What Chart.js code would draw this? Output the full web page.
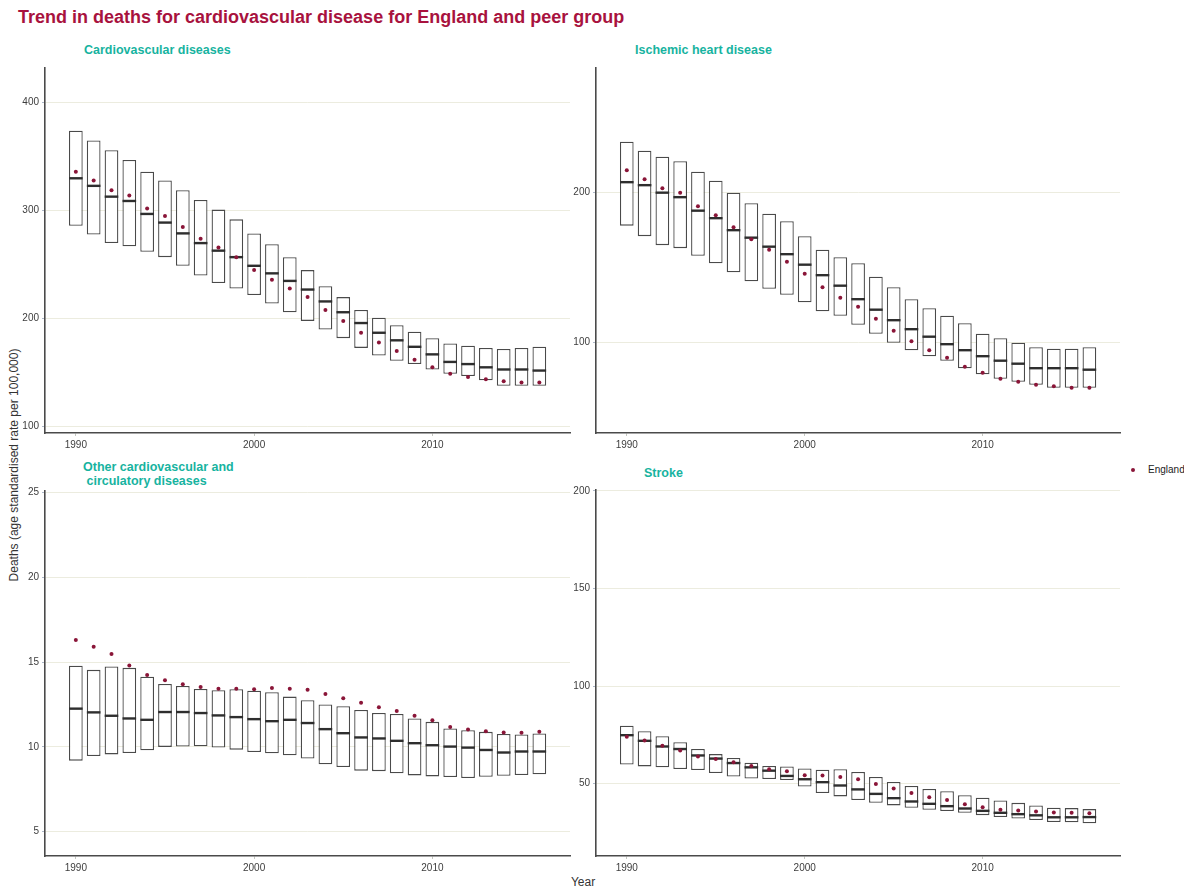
<!DOCTYPE html>
<html>
<head>
<meta charset="utf-8">
<title>Trend in deaths for cardiovascular disease</title>
<script src="https://cdn.jsdelivr.net/npm/chart.js@4.4.1/dist/chart.umd.min.js"></script>
<style>
    body { margin: 0; background: #ffffff; font-family: "Liberation Sans", Arial, sans-serif; }
    #page { position: relative; width: 1184px; height: 889px; overflow: hidden; }
    canvas { position: absolute; }
    .txt { position: absolute; white-space: pre; line-height: 1; }
    .main-title { left: 18px; top: 8px; font-size: 18px; font-weight: bold; color: #a8123e; }
    .panel-title { font-size: 12.5px; font-weight: bold; color: #17b3a0; }
    .axis-title { font-size: 12px; color: #333333; }
    .legend-dot { position: absolute; width: 4px; height: 4px; border-radius: 50%; background: #8a1538; }
    .legend-text { font-size: 10px; color: #222222; }
</style>
</head>
<body>
<div id="page">
    <div class="txt main-title">Trend in deaths for cardiovascular disease for England and peer group</div>

    <div class="txt panel-title" style="left:84px; top:44px;">Cardiovascular diseases</div>
    <div class="txt panel-title" style="left:635px; top:44px;">Ischemic heart disease</div>
    <div class="txt panel-title" style="left:83px; top:460px; line-height:14px;">Other cardiovascular and
 circulatory diseases</div>
    <div class="txt panel-title" style="left:644px; top:467px;">Stroke</div>

    <div class="txt axis-title" style="left:14px; top:465px; transform: translate(-50%, -50%) rotate(-90deg);">Deaths (age standardised rate per 100,000)</div>
    <div class="txt axis-title" style="left:583px; top:882px; transform: translate(-50%, -50%);">Year</div>

    <div class="legend-dot" style="left:1131px; top:468px;"></div>
    <div class="txt legend-text" style="left:1148px; top:465px;">England</div>

    <canvas id="chart-cvd"></canvas>
    <canvas id="chart-ihd"></canvas>
    <canvas id="chart-other"></canvas>
    <canvas id="chart-stroke"></canvas>
</div>

<script>
// Years shared by all four panels
const years = [1990, 1991, 1992, 1993, 1994, 1995, 1996, 1997, 1998, 1999, 2000, 2001, 2002, 2003,
               2004, 2005, 2006, 2007, 2008, 2009, 2010, 2011, 2012, 2013, 2014, 2015, 2016];
const yearTicks = [1990, 2000, 2010];

// Cardiovascular diseases: peer group range, peer median, England
const cvdLow = [286, 278, 270, 267, 262, 257, 249, 240, 233, 228, 222, 214, 206, 198,
                190, 182, 173, 166, 161, 158, 153, 149, 147, 143, 138, 138, 138];
const cvdHigh = [374, 365, 356, 347, 336, 328, 319, 310, 301, 292, 279, 269, 257, 245,
                 230, 220, 208, 201, 194, 188, 182, 177, 175, 173, 172, 173, 174];
const cvdMedian = [330, 323, 313, 309, 297, 289, 279, 270, 263, 257, 249, 242, 235, 227,
                   216, 206, 196, 187, 180, 174, 167, 160, 158, 155, 153, 153, 152];
const cvdEngland = [336, 328, 319, 314, 302, 295, 285, 274, 266, 257, 245, 236, 228, 220,
                    208, 198, 187, 178, 170, 162, 155, 149, 146, 144, 142, 141, 141];
const cvdTicks = [100, 200, 300, 400];

// Ischemic heart disease
const ihdLow = [178, 171, 165, 163, 158, 153, 147, 141, 136, 132, 127, 121, 118, 112,
                106, 100, 95, 91, 88, 83, 79, 76, 74, 72, 70, 70, 70];
const ihdHigh = [234, 228, 224, 221, 214, 208, 200, 193, 186, 181, 171, 162, 157, 153,
                 144, 137, 129, 123, 118, 113, 106, 103, 100, 97, 96, 96, 97];
const ihdMedian = [207, 205, 200, 197, 188, 183, 175, 170, 164, 159, 152, 145, 138, 129,
                   122, 115, 109, 104, 99, 95, 91, 88, 86, 83, 83, 83, 82];
const ihdEngland = [215, 209, 203, 200, 191, 185, 177, 169, 162, 154, 146, 137, 130, 124,
                    116, 108, 101, 95, 90, 84, 80, 76, 74, 72, 71, 70, 70];
const ihdTicks = [100, 200];

// Other cardiovascular and circulatory diseases
const otherLow = [9.18, 9.45, 9.55, 9.63, 9.79, 9.99, 10.01, 10.03, 9.95, 9.83, 9.69, 9.61, 9.5, 9.3,
                  8.96, 8.8, 8.59, 8.56, 8.43, 8.31, 8.25, 8.21, 8.15, 8.23, 8.29, 8.33, 8.37];
const otherHigh = [14.78, 14.54, 14.74, 14.66, 14.13, 13.71, 13.59, 13.41, 13.34, 13.4, 13.31, 13.22, 12.96, 12.75,
                   12.5, 12.39, 12.17, 11.99, 11.93, 11.67, 11.47, 11.08, 10.98, 10.88, 10.76, 10.72, 10.78];
const otherMedian = [12.25, 12.03, 11.83, 11.67, 11.59, 12.05, 12.05, 11.99, 11.85, 11.75, 11.63, 11.51, 11.59, 11.4,
                     11.04, 10.8, 10.55, 10.49, 10.35, 10.21, 10.09, 10.01, 9.95, 9.81, 9.66, 9.72, 9.72];
const otherEngland = [16.31, 15.91, 15.48, 14.8, 14.23, 13.93, 13.69, 13.53, 13.43, 13.43, 13.4, 13.47, 13.43, 13.37,
                      13.12, 12.86, 12.6, 12.33, 12.11, 11.83, 11.57, 11.16, 11.02, 10.92, 10.84, 10.82, 10.88];
const otherTicks = [5, 10, 15, 20, 25];

// Stroke
const strokeLow = [59.8, 58.8, 58.3, 57.4, 56.9, 55.4, 53.6, 52.6, 52.3, 51.8, 48.5, 45.1, 43.4, 41.5,
                   40.1, 38.8, 37.6, 36.5, 35.9, 35.0, 33.8, 32.8, 32.1, 31.3, 30.3, 30.1, 29.6];
const strokeHigh = [79.6, 76.8, 74.3, 71.2, 67.7, 65.1, 63.1, 60.7, 59.0, 58.8, 57.7, 57.1, 57.3, 55.9,
                    53.4, 50.8, 48.8, 47.2, 46.1, 44.0, 42.7, 41.3, 40.1, 38.8, 37.6, 37.4, 36.9];
const strokeMedian = [74.8, 71.9, 69.0, 67.7, 64.4, 62.8, 60.5, 58.3, 56.6, 53.9, 52.2, 50.7, 49.0, 47.0,
                      44.7, 42.5, 40.8, 39.6, 38.4, 37.2, 36.0, 35.0, 34.3, 33.7, 32.7, 32.7, 32.8];
const strokeEngland = [74.0, 72.1, 69.4, 67.0, 63.9, 62.6, 60.9, 59.0, 57.3, 56.3, 54.2, 54.1, 53.4, 52.2,
                       49.8, 47.4, 45.1, 43.0, 41.5, 39.4, 37.9, 36.5, 36.2, 35.7, 35.2, 35.0, 34.8];
const strokeTicks = [50, 100, 150, 200];

const Y_AXIS_WIDTH = 45;
const X_AXIS_HEIGHT = 30;
const PAD = 10;
const TICK_FONT = { family: '"Liberation Sans", Arial, sans-serif', size: 10 };

function buildPanel(canvasId, area, yRange, yTicks, low, high, median, england) {
    const canvas = document.getElementById(canvasId);
    const width = area.right - area.left + Y_AXIS_WIDTH + PAD;
    const height = area.bottom - area.top + PAD + X_AXIS_HEIGHT;
    canvas.width = width;
    canvas.height = height;
    canvas.style.left = (area.left - Y_AXIS_WIDTH) + 'px';
    canvas.style.top = (area.top - PAD) + 'px';
    canvas.style.width = width + 'px';
    canvas.style.height = height + 'px';

    return new Chart(canvas.getContext('2d'), {
        type: 'bar',
        data: {
            datasets: [
                {
                    // England rate
                    type: 'scatter',
                    order: 1,
                    data: years.map((yr, i) => ({ x: yr, y: england[i] })),
                    pointStyle: 'circle',
                    pointRadius: 2,
                    pointBackgroundColor: '#8a1538',
                    pointBorderWidth: 0
                },
                {
                    // Peer group median
                    type: 'scatter',
                    order: 2,
                    data: years.map((yr, i) => ({ x: yr, y: median[i] })),
                    pointStyle: 'line',
                    pointRadius: 6.8,
                    pointBorderColor: '#2e2e2e',
                    pointBorderWidth: 2.4
                },
                {
                    // Peer group range
                    type: 'bar',
                    order: 3,
                    data: years.map((yr, i) => ({ x: yr, y: [low[i], high[i]] })),
                    backgroundColor: '#ffffff',
                    borderColor: '#4a4a4a',
                    borderWidth: 1.3,
                    borderSkipped: false,
                    categoryPercentage: 0.77,
                    barPercentage: 1
                }
            ]
        },
        options: {
            responsive: false,
            animation: false,
            events: [],
            layout: { padding: { top: PAD, right: PAD, left: 0, bottom: 0 } },
            plugins: {
                legend: { display: false },
                tooltip: { enabled: false }
            },
            scales: {
                x: {
                    type: 'linear',
                    offset: false,
                    min: 1988.27,
                    max: 2017.72,
                    afterBuildTicks: scale => { scale.ticks = yearTicks.map(v => ({ value: v })); },
                    afterFit: scale => { scale.height = X_AXIS_HEIGHT; },
                    grid: {
                        drawOnChartArea: false,
                        drawTicks: true,
                        tickLength: 3,
                        tickColor: '#c4c6c0',
                        offset: false
                    },
                    border: { display: true, color: '#4a4a4a', width: 1.6 },
                    ticks: {
                        padding: 3,
                        color: '#3d3d3d',
                        font: TICK_FONT,
                        maxRotation: 0,
                        callback: value => String(value)
                    }
                },
                y: {
                    type: 'linear',
                    min: yRange[0],
                    max: yRange[1],
                    afterBuildTicks: scale => { scale.ticks = yTicks.map(v => ({ value: v })); },
                    afterFit: scale => { scale.width = Y_AXIS_WIDTH; },
                    grid: {
                        color: '#ececdf',
                        lineWidth: 1,
                        drawTicks: true,
                        tickLength: 3,
                        tickColor: '#aeb8c8'
                    },
                    border: { display: true, color: '#4a4a4a', width: 1.6 },
                    ticks: {
                        padding: 3,
                        color: '#3d3d3d',
                        font: TICK_FONT,
                        callback: value => String(value)
                    }
                }
            }
        }
    });
}

buildPanel('chart-cvd', { left: 45, top: 68, right: 570, bottom: 433 },
    [94.2, 432.1], cvdTicks, cvdLow, cvdHigh, cvdMedian, cvdEngland);
buildPanel('chart-ihd', { left: 596, top: 68, right: 1120, bottom: 433 },
    [39.8, 283.1], ihdTicks, ihdLow, ihdHigh, ihdMedian, ihdEngland);
buildPanel('chart-other', { left: 45, top: 491, right: 570, bottom: 856 },
    [3.55, 25.1], otherTicks, otherLow, otherHigh, otherMedian, otherEngland);
buildPanel('chart-stroke', { left: 596, top: 490, right: 1120, bottom: 856 },
    [12.85, 200.5], strokeTicks, strokeLow, strokeHigh, strokeMedian, strokeEngland);
</script>
</body>
</html>
